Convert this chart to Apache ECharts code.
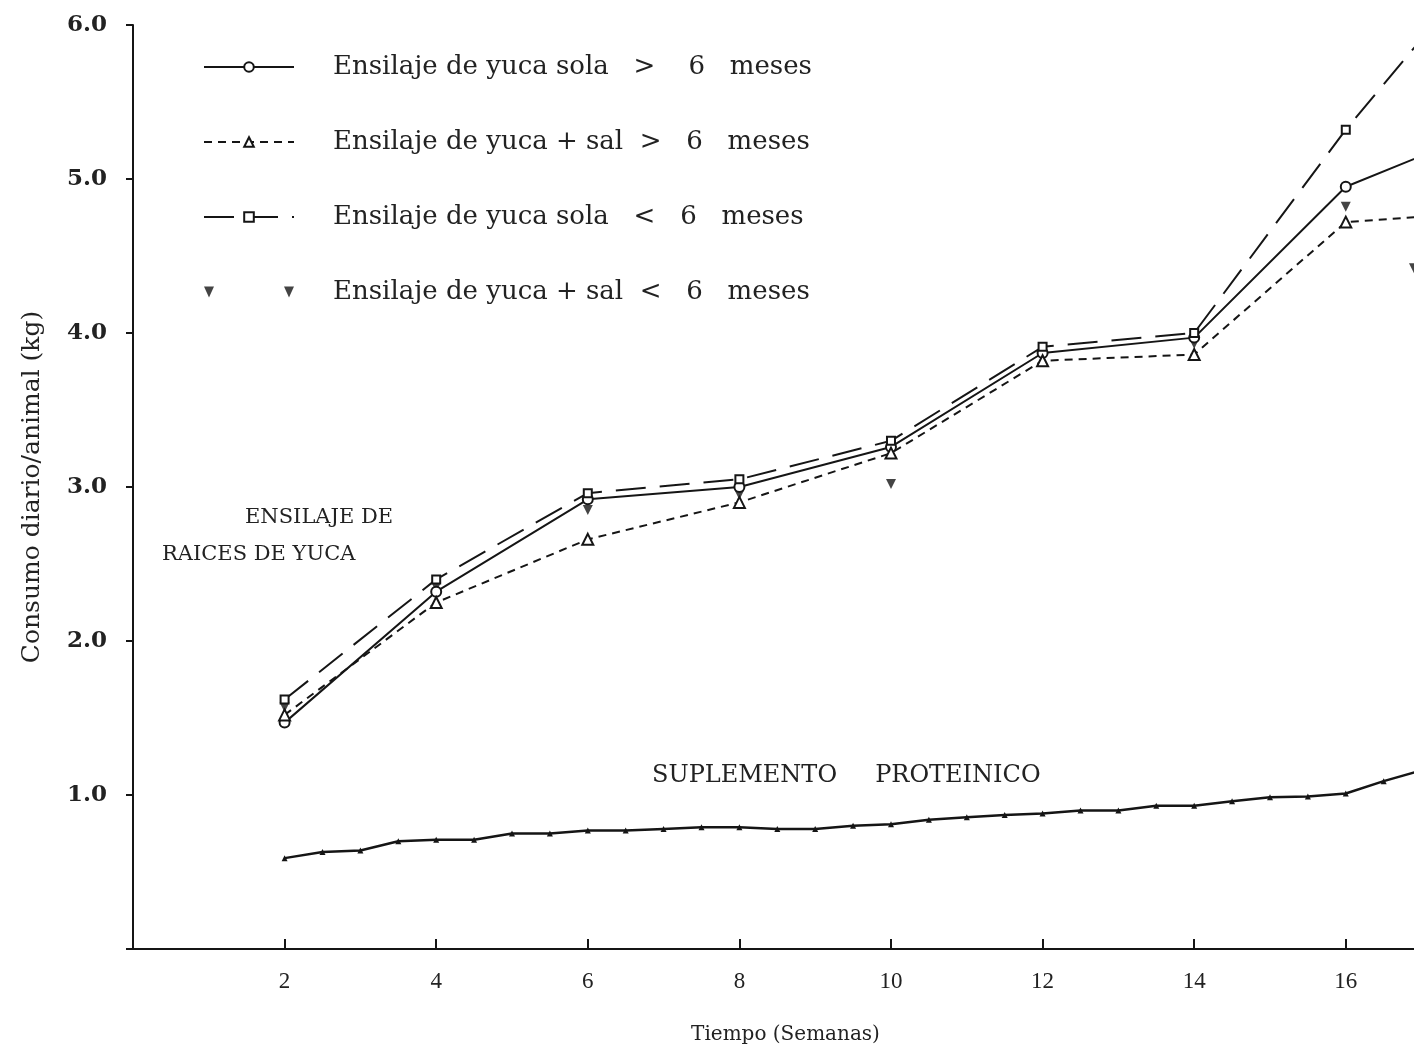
<!DOCTYPE html>
<html>
<head>
  <meta charset="utf-8">
  <script src="https://cdn.jsdelivr.net/npm/echarts@6/dist/echarts.min.js"></script>
</head>
<body style="margin:0;background:#fff;">
<div id="main" style="width:1414px;height:1053px;"></div>
<script type="text/javascript">
// semanas y consumo diario (kg)
var weeks = [2, 4, 6, 8, 10, 12, 14, 16, 18];
var solaMas6 = [1.47, 2.32, 2.92, 3.00, 3.26, 3.87, 3.97, 4.95, 5.35];
var salMas6 = [1.52, 2.25, 2.66, 2.90, 3.22, 3.82, 3.86, 4.72, 4.79];
var solaMenos6 = [1.62, 2.40, 2.96, 3.05, 3.30, 3.91, 4.00, 5.32, 6.50];
var salMenosWeeks = [2, 4, 6, 8, 10, 12, 14, 16, 16.9];
var salMenos6 = [1.57, 2.35, 2.85, 2.95, 3.02, 3.85, 3.93, 4.82, 4.42];

var supWeeks = [2, 2.5, 3, 3.5, 4, 4.5, 5, 5.5, 6, 6.5, 7, 7.5, 8, 8.5, 9, 9.5, 10,
  10.5, 11, 11.5, 12, 12.5, 13, 13.5, 14, 14.5, 15, 15.5, 16, 16.5, 17];
var suplemento = [0.59, 0.63, 0.64, 0.70, 0.71, 0.71, 0.75, 0.75, 0.77, 0.77, 0.78, 0.79, 0.79, 0.78, 0.78, 0.80, 0.81,
  0.84, 0.855, 0.87, 0.88, 0.90, 0.90, 0.93, 0.93, 0.96, 0.985, 0.99, 1.01, 1.09, 1.16];

var names = [
  'Ensilaje de yuca sola   >    6   meses',
  'Ensilaje de yuca + sal  >   6   meses',
  'Ensilaje de yuca sola   <   6   meses',
  'Ensilaje de yuca + sal  <   6   meses'
];

function pairs(xs, ys) {
  var res = [];
  for (var i = 0; i < xs.length; i++) res.push([xs[i], ys[i]]);
  return res;
}

var ink = '#151515';
var serif = '"DejaVu Serif", "Liberation Serif", serif';

var chart = echarts.init(document.getElementById('main'));
chart.setOption({
  backgroundColor: '#fff',
  animation: false,
  grid: {left: 133, right: 0, top: 25, bottom: 104},
  legend: {
    orient: 'vertical',
    left: 198,
    top: 49,
    itemWidth: 90,
    itemHeight: 12,
    itemGap: 49,
    data: [
      names[0], names[1], names[2],
      {name: names[3], icon: 'path://M0,0L10,0L5,11Z M80,0L90,0L85,11Z'}
    ],
    textStyle: {fontFamily: serif, fontSize: 26, color: '#222', padding: [0, 0, 0, 34]}
  },
  xAxis: {
    type: 'value',
    min: 0,
    max: 16.9,
    interval: 2,
    name: 'Tiempo (Semanas)',
    nameLocation: 'middle',
    nameGap: 76,
    nameTextStyle: {fontFamily: serif, fontSize: 20, color: '#222', padding: [0, 0, 0, 24]},
    splitLine: {show: false},
    axisLine: {lineStyle: {color: ink, width: 2}},
    axisTick: {inside: true, length: 10, lineStyle: {color: ink, width: 2}},
    axisLabel: {
      margin: 21, fontFamily: '"Liberation Serif", serif', fontSize: 23, color: '#222',
      showMaxLabel: false,
      formatter: function (v) { return v === 0 ? '' : String(v); }
    }
  },
  yAxis: {
    type: 'value',
    min: 0,
    max: 6,
    interval: 1,
    name: 'Consumo diario/animal (kg)',
    nameLocation: 'middle',
    nameGap: 88,
    nameTextStyle: {fontFamily: serif, fontSize: 25, color: '#222'},
    splitLine: {show: false},
    axisLine: {show: true, lineStyle: {color: ink, width: 2}},
    axisTick: {show: true, length: 7, lineStyle: {color: ink, width: 2}},
    axisLabel: {
      margin: 26, fontFamily: '"DejaVu Serif", serif', fontWeight: 'bold', fontSize: 23, color: '#222',
      formatter: function (v) { return v === 0 ? '' : v.toFixed(1); }
    }
  },
  graphic: [
    {type: 'text', left: 245, top: 507, style: {text: 'ENSILAJE DE', font: '21px "DejaVu Serif", serif', fill: '#222'}},
    {type: 'text', left: 162, top: 544, style: {text: 'RAICES DE YUCA', font: '21px "DejaVu Serif", serif', fill: '#222'}},
    {type: 'text', left: 652, top: 764, style: {text: 'SUPLEMENTO     PROTEINICO', font: '24px "DejaVu Serif", serif', fill: '#222'}}
  ],
  series: [
    {
      name: names[0], type: 'line', data: pairs(weeks, solaMas6), clip: true,
      symbol: 'emptyCircle', symbolSize: 10, showAllSymbol: true,
      lineStyle: {color: ink, width: 2, type: 'solid'},
      itemStyle: {color: ink, borderWidth: 2}
    },
    {
      name: names[1], type: 'line', data: pairs(weeks, salMas6), clip: true,
      symbol: 'emptyTriangle', symbolSize: 11, showAllSymbol: true,
      lineStyle: {color: ink, width: 2, type: [8, 6]},
      itemStyle: {color: ink, borderWidth: 2}
    },
    {
      name: names[2], type: 'line', data: pairs(weeks, solaMenos6), clip: true,
      symbol: 'emptyRect', symbolSize: 8, showAllSymbol: true,
      lineStyle: {color: ink, width: 2, type: [30, 14]},
      itemStyle: {color: ink, borderWidth: 2}
    },
    {
      name: names[3], type: 'scatter', data: pairs(salMenosWeeks, salMenos6), clip: true,
      symbol: 'triangle', symbolRotate: 180, symbolSize: 10,
      itemStyle: {color: ink}
    },
    {
      name: 'Suplemento proteinico', type: 'line', data: pairs(supWeeks, suplemento), clip: true,
      symbol: 'triangle', symbolSize: 6, showAllSymbol: true,
      lineStyle: {color: ink, width: 2.5},
      itemStyle: {color: ink}
    }
  ]
});
</script>
</body>
</html>
